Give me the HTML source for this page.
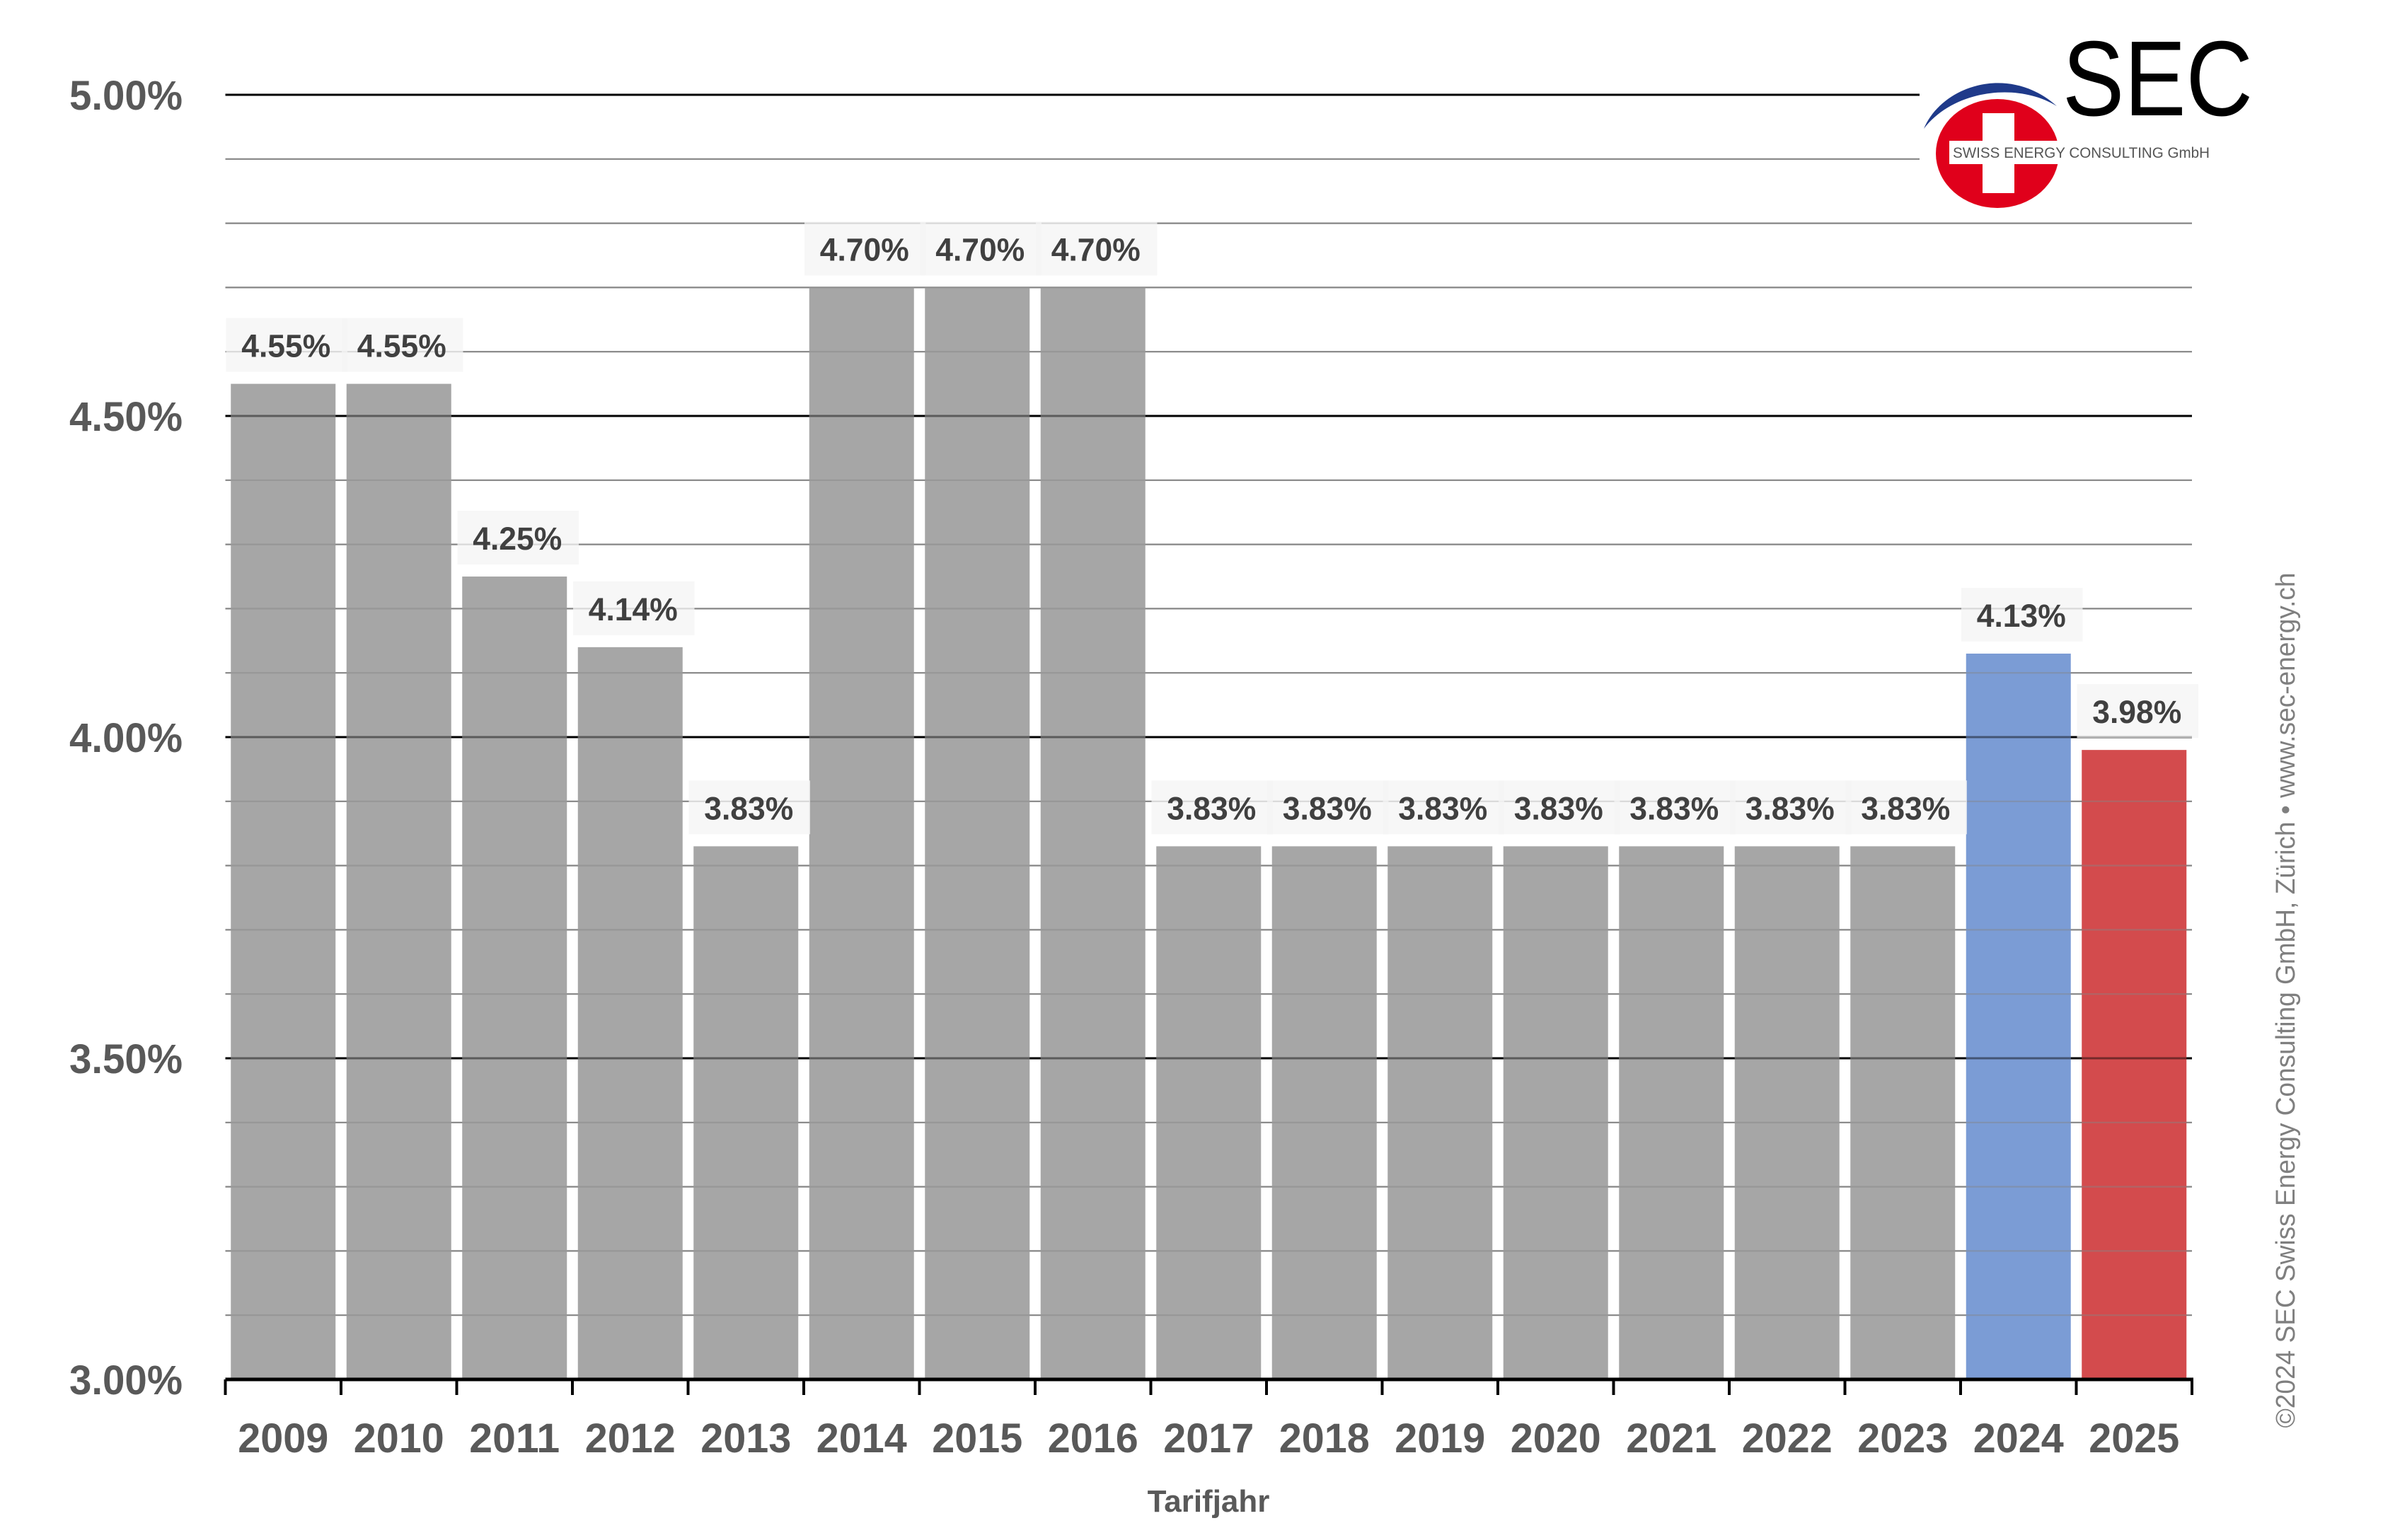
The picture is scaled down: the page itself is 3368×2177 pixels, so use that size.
<!DOCTYPE html>
<html><head><meta charset="utf-8">
<style>
html,body{margin:0;padding:0;background:#fff;}
svg{display:block;}
text{font-family:"Liberation Sans",Arial,sans-serif;}
</style></head>
<body>
<svg id="chart" width="3368" height="2177" viewBox="0 0 3368 2177" xmlns="http://www.w3.org/2000/svg">
  <defs><clipPath id="barclip"></clipPath></defs>
  <g id="grid"></g>
  <g id="bars"></g>
  <g id="gridover" clip-path="url(#barclip)" opacity="0.45"></g>
  <g id="labels"></g>
  <g id="axes"></g>
  <text x="1708" y="2137" text-anchor="middle" font-size="44" font-weight="bold" fill="#595959">Tarifjahr</text>
  <text transform="translate(3243,1414) rotate(-90)" text-anchor="middle" font-size="38" fill="#7f7f7f" textLength="1209" lengthAdjust="spacingAndGlyphs">©2024 SEC Swiss Energy Consulting GmbH, Zürich • www.sec-energy.ch</text>
  <g>
    <path d="M2719,182 C2745,120 2840,90 2907,150 C2850,115 2760,128 2719,182 Z" fill="#1f3a8a"/>
    <ellipse cx="2823" cy="217" rx="87" ry="77" fill="#e0001b"/>
    <rect x="2802" y="160" width="45" height="113" fill="#fff"/>
    <rect x="2755" y="199" width="155" height="33" fill="#fff"/>
    <text x="2915" y="163" font-size="151" fill="#000" textLength="269" lengthAdjust="spacingAndGlyphs">SEC</text>
    <text x="2760" y="223" font-size="21" fill="#555" textLength="363" lengthAdjust="spacingAndGlyphs">SWISS ENERGY CONSULTING GmbH</text>
  </g>
</svg>
<script>
const categories = ["2009","2010","2011","2012","2013","2014","2015","2016","2017","2018","2019","2020","2021","2022","2023","2024","2025"];
const values = [4.55,4.55,4.25,4.14,3.83,4.70,4.70,4.70,3.83,3.83,3.83,3.83,3.83,3.83,3.83,4.13,3.98];
const valueLabels = ["4.55%","4.55%","4.25%","4.14%","3.83%","4.70%","4.70%","4.70%","3.83%","3.83%","3.83%","3.83%","3.83%","3.83%","3.83%","4.13%","3.98%"];
const barColors = ["#a6a6a6","#a6a6a6","#a6a6a6","#a6a6a6","#a6a6a6","#a6a6a6","#a6a6a6","#a6a6a6","#a6a6a6","#a6a6a6","#a6a6a6","#a6a6a6","#a6a6a6","#a6a6a6","#a6a6a6","#7b9cd5","#d34b4d"];
const yTicks = [3.0,3.5,4.0,4.5,5.0];
const yTickLabels = ["3.00%","3.50%","4.00%","4.50%","5.00%"];
const yMinor = [3.1,3.2,3.3,3.4,3.6,3.7,3.8,3.9,4.1,4.2,4.3,4.4,4.6,4.7,4.8,4.9];

const NS="http://www.w3.org/2000/svg";
const X0=318.5, X1=3098, Y3=1950, PER=908, YMIN=3.0;
const cw=(X1-X0)/categories.length;
function y(v){return Y3-(v-YMIN)*PER;}
function xc(i){return X0+cw*(i+0.5);}
function mk(tag,attrs,parent){const e=document.createElementNS(NS,tag);for(const k in attrs)e.setAttribute(k,attrs[k]);parent.appendChild(e);return e;}
const grid=document.getElementById('grid'), over=document.getElementById('gridover');
function gline(v,major,parent){
  const yy=y(v);
  const right=(v>=4.85)?2713:X1;
  const l=mk('line',{x1:X0,x2:right,y1:yy,y2:yy,stroke:major?'#000':'#858585','stroke-width':major?3:2.2},parent);
  
  
}
yMinor.forEach(v=>{gline(v,false,grid);gline(v,false,over);});
yTicks.forEach(v=>{if(v>YMIN){gline(v,true,grid);gline(v,true,over);}});

const bars=document.getElementById('bars'), labels=document.getElementById('labels'), clip=document.getElementById('barclip');
const bw=148;
categories.forEach((c,i)=>{
  const top=y(values[i]);
  const r=mk('rect',{x:xc(i)-bw/2,y:top,width:bw,height:Y3-top,fill:barColors[i]},bars);
  
  
  mk('rect',{x:xc(i)-bw/2,y:top,width:bw,height:Y3-top},clip);
  const box=mk('rect',{x:xc(i)-cw/2+1,y:top-93,width:cw+8,height:76,fill:'#f4f4f4','fill-opacity':0.75},labels);
  
  
  const t=mk('text',{x:xc(i)+4,y:top-38,'text-anchor':'middle','font-size':45,'font-weight':'bold',fill:'#404040',textLength:126,lengthAdjust:'spacingAndGlyphs'},labels);
  t.textContent=valueLabels[i];
  
  
});

const axes=document.getElementById('axes');
const ax=mk('line',{x1:X0,x2:X1+2,y1:Y3,y2:Y3,stroke:'#000','stroke-width':5},axes);


for(let i=0;i<=categories.length;i++){
  const tx=X0+cw*i;
  const tk=mk('line',{x1:tx,x2:tx,y1:Y3,y2:Y3+22,stroke:'#000','stroke-width':4},axes);
  
  
}
categories.forEach((c,i)=>{
  const t=mk('text',{x:xc(i),y:2053,'text-anchor':'middle','font-size':58,'font-weight':'bold',fill:'#595959',textLength:128,lengthAdjust:'spacingAndGlyphs'},axes);
  t.textContent=c;
  
  
});
yTicks.forEach((v,i)=>{
  const t=mk('text',{x:258,y:y(v)+21,'text-anchor':'end','font-size':58,'font-weight':'bold',fill:'#595959',textLength:160,lengthAdjust:'spacingAndGlyphs'},axes);
  t.textContent=yTickLabels[i];
  
  
});
</script>
</body></html>
